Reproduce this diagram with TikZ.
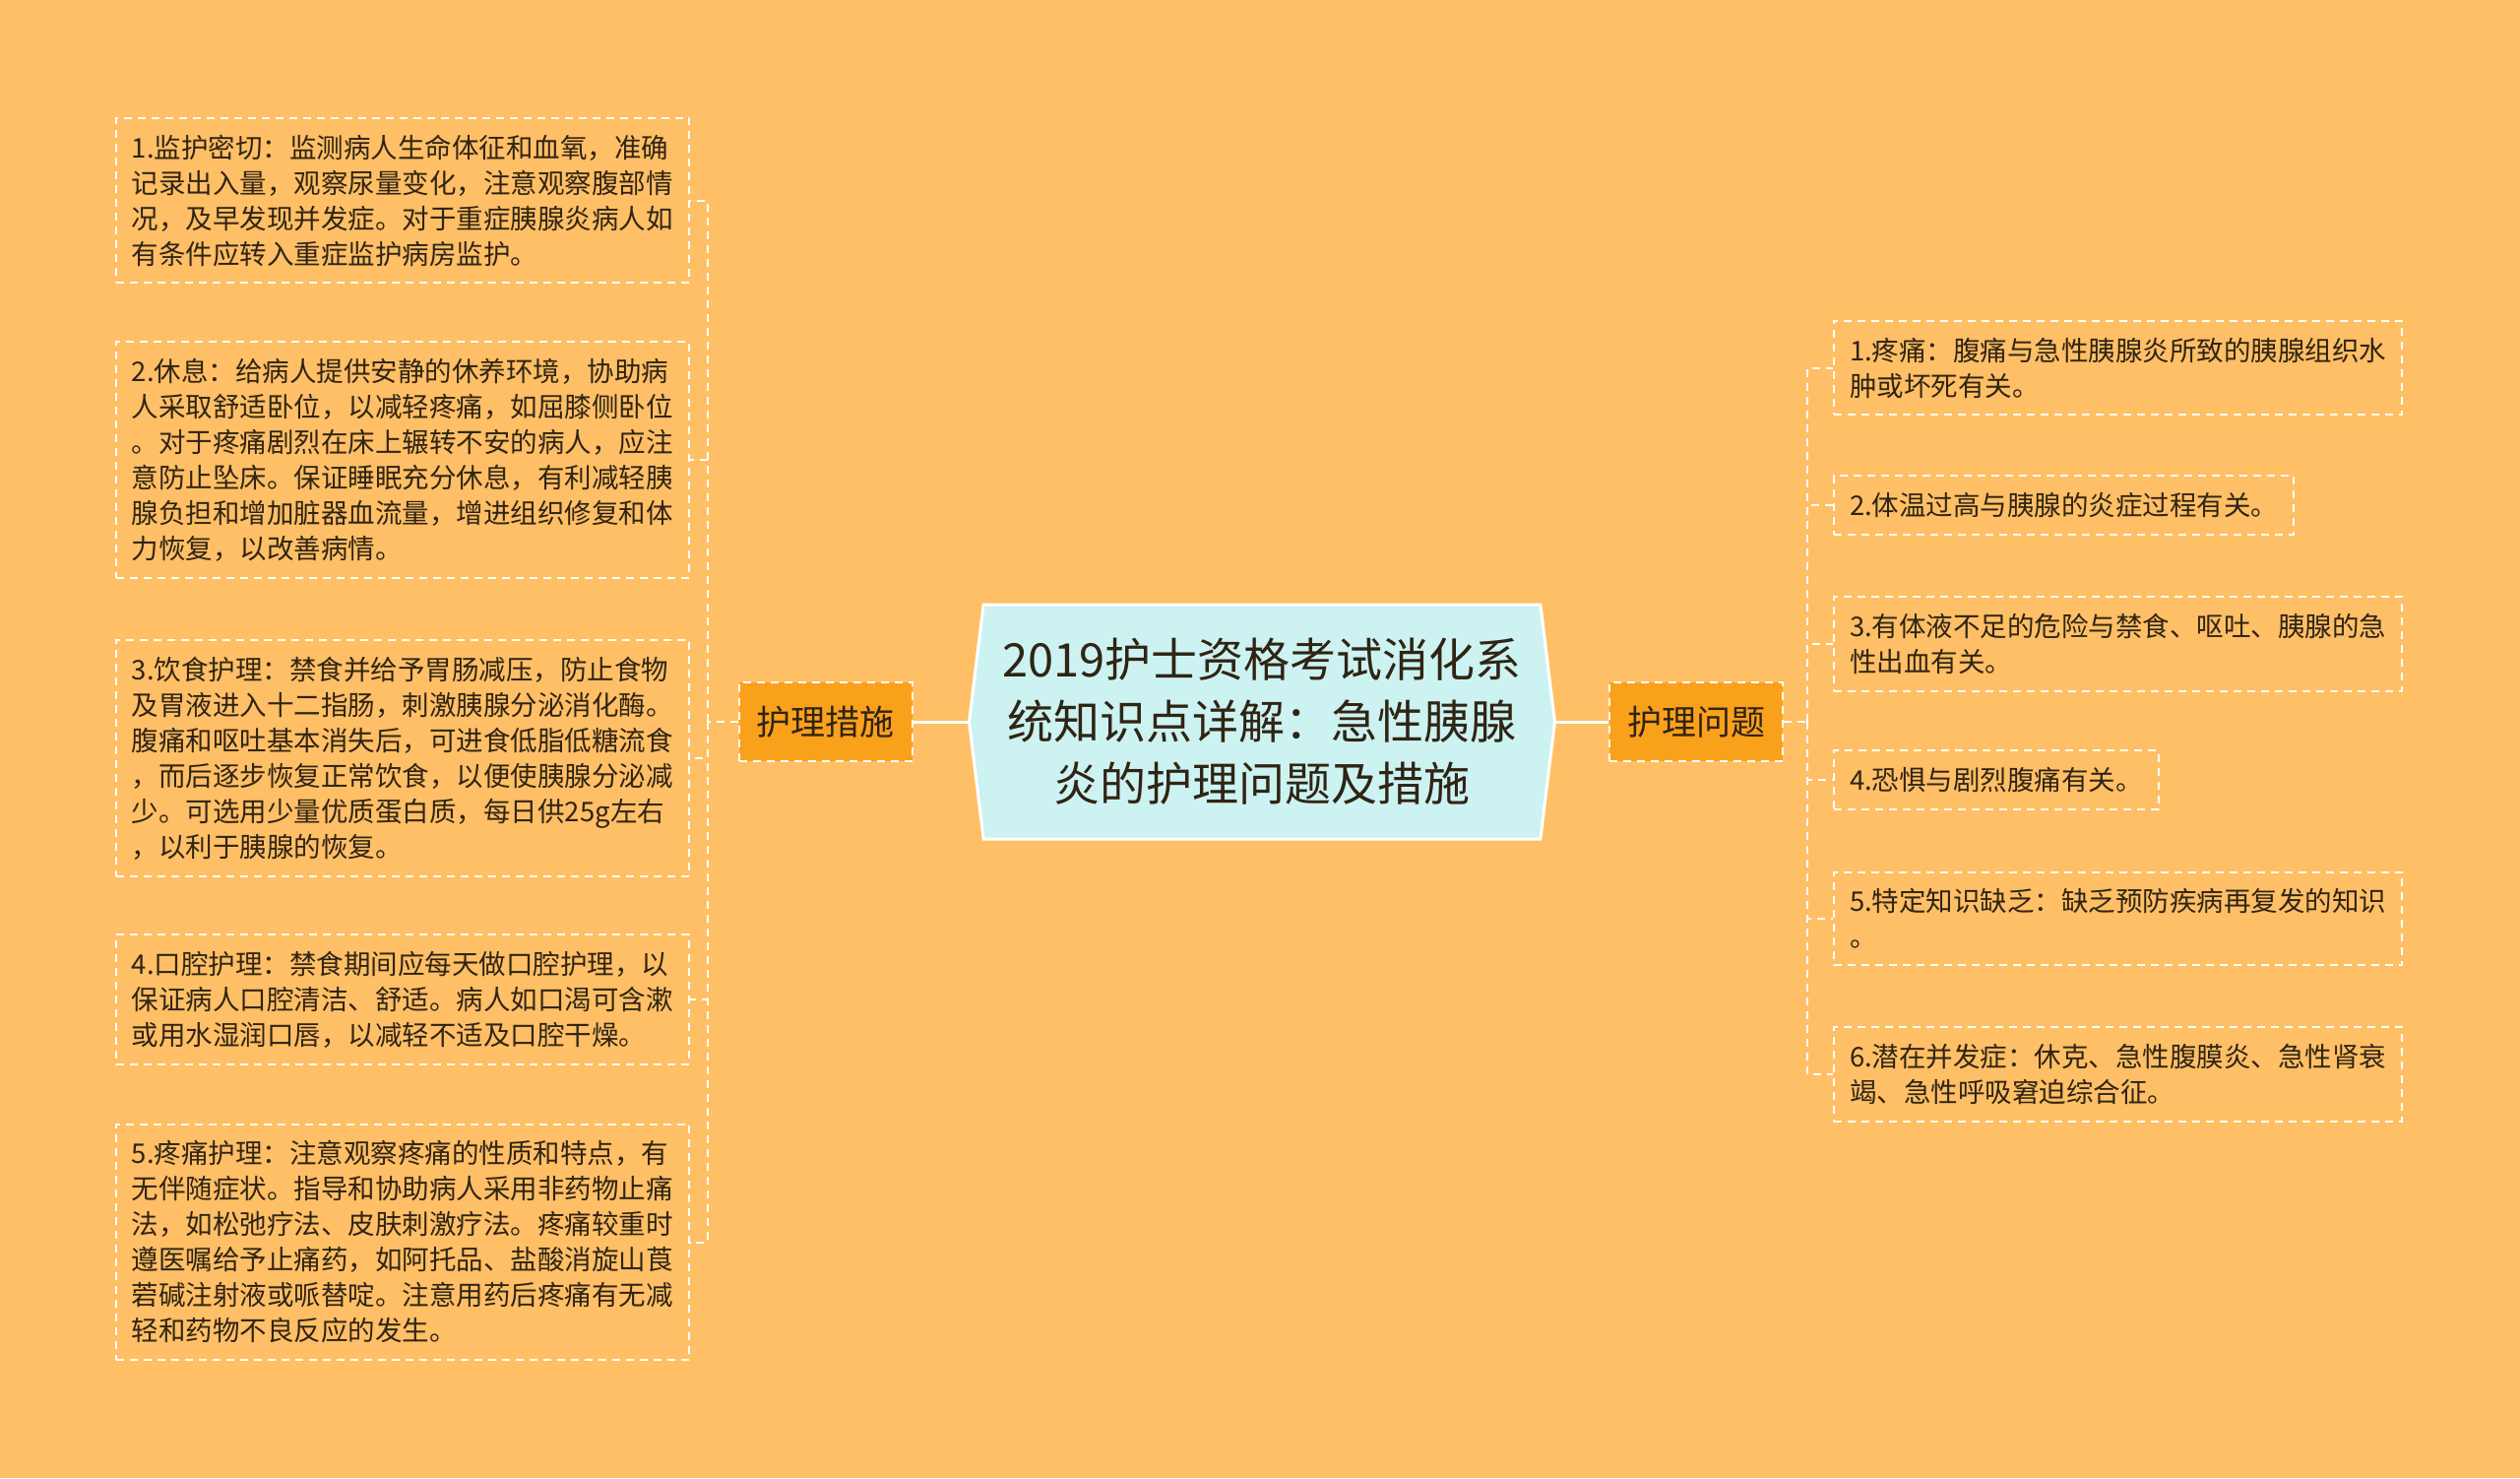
\documentclass[tikz,border=0pt]{standalone}
\usepackage{fontspec}
\setmainfont{Noto Sans CJK SC}
\usepackage{tikz}
\usetikzlibrary{shapes.symbols, calc, positioning}
\definecolor{bgorange}{RGB}{254,191,102}
\definecolor{topicfill}{RGB}{204,243,241}
\definecolor{branchfill}{RGB}{250,161,28}
\definecolor{inktext}{RGB}{48,36,20}
\tikzstyle{topic} = [signal, signal to=west and east, signal pointer angle=166, fill=topicfill, draw=white, line width=1.5pt, minimum width=297.5pt, minimum height=119pt, align=center, text=inktext, font=\fontsize{23.5}{31.5}\selectfont]
\tikzstyle{branch} = [rectangle, fill=branchfill, draw=white, dash pattern=on 4pt off 3pt, line width=1pt, minimum width=88pt, minimum height=40pt, text=inktext, font=\fontsize{17.5}{21}\selectfont]
\tikzstyle{leaf} = [rectangle, draw=white, dash pattern=on 4pt off 3pt, line width=1pt, align=left, inner xsep=8pt, inner ysep=8.5pt, text=inktext, font=\fontsize{13.75}{18}\selectfont]
\tikzstyle{link} = [draw=white, line width=1.5pt]
\tikzstyle{twig} = [draw=white, dash pattern=on 4pt off 3pt, line width=1pt]

\begin{document}
\begin{tikzpicture}
	\fill [bgorange] (-641pt,-384pt) rectangle (639pt,366.5pt);
	\useasboundingbox (-641pt,-384pt) rectangle (639pt,366.5pt);
	\node (Center) [topic] at (0,0) {2019护士资格考试消化系\\统知识点详解：急性胰腺\\炎的护理问题及措施};
	\node (Measures) [branch, left = 27.5pt of Center] {护理措施};
	\node (Problems) [branch, right = 26.5pt of Center] {护理问题};
	\coordinate [left = 15.5pt of Measures] (MeasuresSpine);
	\coordinate [right = 12pt of Problems] (ProblemsSpine);
	% nursing measures
	\node (M1) [leaf, anchor=east] at ($(MeasuresSpine)+(-9pt,264.75pt)$) {1.监护密切：监测病人生命体征和血氧，准确\\记录出入量，观察尿量变化，注意观察腹部情\\况，及早发现并发症。对于重症胰腺炎病人如\\有条件应转入重症监护病房监护。};
	\node (M2) [leaf, anchor=east] at ($(MeasuresSpine)+(-9pt,133pt)$) {2.休息：给病人提供安静的休养环境，协助病\\人采取舒适卧位，以减轻疼痛，如屈膝侧卧位\\。对于疼痛剧烈在床上辗转不安的病人，应注\\意防止坠床。保证睡眠充分休息，有利减轻胰\\腺负担和增加脏器血流量，增进组织修复和体\\力恢复，以改善病情。};
	\node (M3) [leaf, anchor=east] at ($(MeasuresSpine)+(-9pt,-18.5pt)$) {3.饮食护理：禁食并给予胃肠减压，防止食物\\及胃液进入十二指肠，刺激胰腺分泌消化酶。\\腹痛和呕吐基本消失后，可进食低脂低糖流食\\，而后逐步恢复正常饮食，以便使胰腺分泌减\\少。可选用少量优质蛋白质，每日供25g左右\\，以利于胰腺的恢复。};
	\node (M4) [leaf, anchor=east] at ($(MeasuresSpine)+(-9pt,-141pt)$) {4.口腔护理：禁食期间应每天做口腔护理，以\\保证病人口腔清洁、舒适。病人如口渴可含漱\\或用水湿润口唇，以减轻不适及口腔干燥。};
	\node (M5) [leaf, anchor=east] at ($(MeasuresSpine)+(-9pt,-264.25pt)$) {5.疼痛护理：注意观察疼痛的性质和特点，有\\无伴随症状。指导和协助病人采用非药物止痛\\法，如松弛疗法、皮肤刺激疗法。疼痛较重时\\遵医嘱给予止痛药，如阿托品、盐酸消旋山莨\\菪碱注射液或哌替啶。注意用药后疼痛有无减\\轻和药物不良反应的发生。};
	% nursing problems
	\node (P1) [leaf, anchor=west] at ($(ProblemsSpine)+(13pt,179.75pt)$) {1.疼痛：腹痛与急性胰腺炎所致的胰腺组织水\\肿或坏死有关。};
	\node (P2) [leaf, anchor=west] at ($(ProblemsSpine)+(13pt,110pt)$) {2.体温过高与胰腺的炎症过程有关。};
	\node (P3) [leaf, anchor=west] at ($(ProblemsSpine)+(13pt,39.5pt)$) {3.有体液不足的危险与禁食、呕吐、胰腺的急\\性出血有关。};
	\node (P4) [leaf, anchor=west] at ($(ProblemsSpine)+(13pt,-29.5pt)$) {4.恐惧与剧烈腹痛有关。};
	\node (P5) [leaf, anchor=west] at ($(ProblemsSpine)+(13pt,-100pt)$) {5.特定知识缺乏：缺乏预防疾病再复发的知识\\。};
	\node (P6) [leaf, anchor=west] at ($(ProblemsSpine)+(13pt,-179pt)$) {6.潜在并发症：休克、急性腹膜炎、急性肾衰\\竭、急性呼吸窘迫综合征。};
	\draw [link] (Center.west) -- (Measures.east);
	\draw [link] (Center.east) -- (Problems.west);
	\draw [twig] (Measures.west) -- (MeasuresSpine);
	\draw [twig] (Problems.east) -- (ProblemsSpine);
	\foreach \leafname in {M1,M2,M3,M4,M5}
		\draw [twig] (MeasuresSpine) |- (\leafname.east);
	\foreach \leafname in {P1,P2,P3,P4,P5,P6}
		\draw [twig] (ProblemsSpine) |- (\leafname.west);
\end{tikzpicture}
\end{document}
